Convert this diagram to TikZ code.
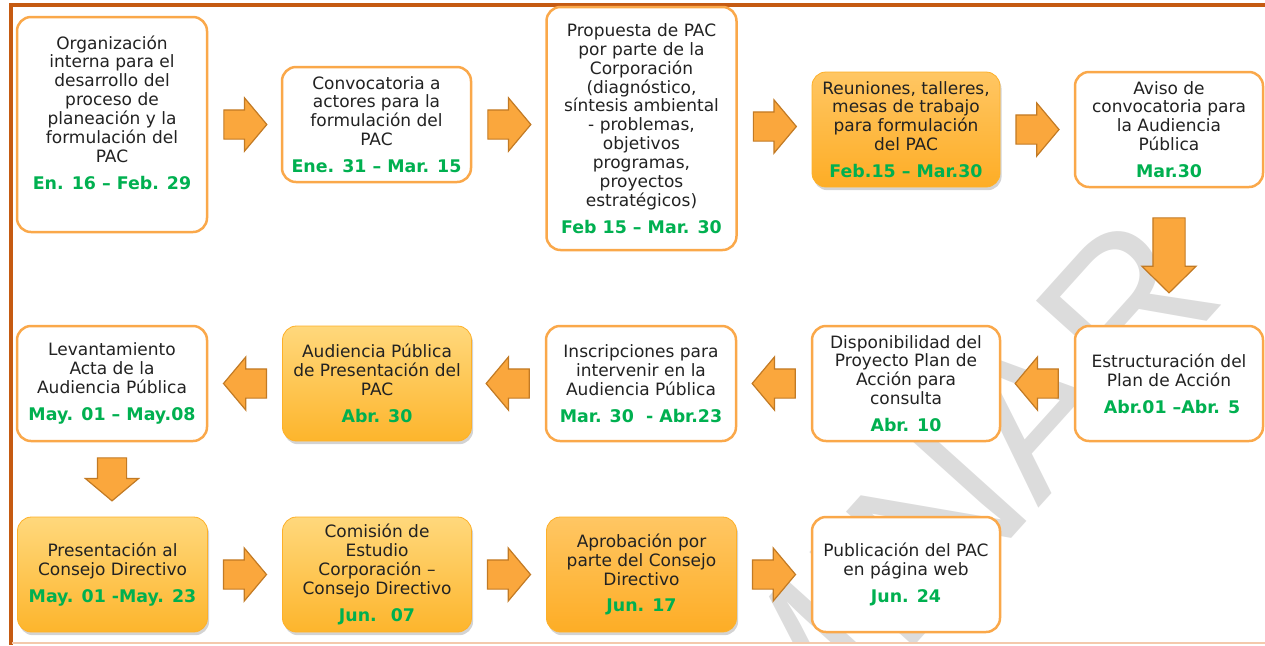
\documentclass[tikz,border=0pt]{standalone}
\usepackage{fontspec}
\usepackage{tikz}
\usetikzlibrary{shapes.arrows,shadows,calc}

\newfontfamily\boxfont{DejaVu Sans}
\newfontfamily\markfont{Liberation Sans}

\definecolor{framec}{HTML}{C55A11}
\definecolor{peach}{HTML}{F4C9AC}
\definecolor{boxorange}{HTML}{FAA84A}
\definecolor{txtgray}{HTML}{222222}
\definecolor{dategreen}{HTML}{00B050}
\definecolor{goldtop}{HTML}{FFD87C}
\definecolor{goldbot}{HTML}{FDB52C}
\definecolor{arrfill}{HTML}{FAA73D}
\definecolor{arrline}{HTML}{C27A24}
\definecolor{markgray}{HTML}{DCDCDC}

\newcommand{\fecha}[1]{{\bfseries\fontsize{8.7}{9.45}\selectfont\color{dategreen}#1}}

\begin{document}
\begin{tikzpicture}
[x=0.5pt,y=-0.5pt]
\tikzset{
	wbox/.style = {draw=boxorange, line width=1.25pt, fill=white, rounded corners=7pt,
		minimum width=95pt, minimum height=57.5pt, align=center, text=txtgray, inner sep=2pt,
		font=\boxfont\fontsize{8.5}{9.45}\selectfont},
	gbox/.style = {wbox, draw=goldbot!90!orange, line width=0.4pt, top color=goldtop, bottom color=goldbot,
		drop shadow={shadow xshift=0.8pt, shadow yshift=-1.6pt, opacity=0.35}},
	arr/.style = {single arrow, draw=arrline, fill=arrfill, line width=0.6pt, inner xsep=0pt, inner ysep=7pt,
		minimum height=21.5pt, minimum width=26pt, single arrow head extend=6pt, single arrow tip angle=100,
		anchor=tail},
	larr/.style = {arr, shape border rotate=180},
	darr/.style = {arr, shape border rotate=270, inner xsep=7pt, inner ysep=0pt},
	watermark/.style = {text=markgray, font=\markfont\fontsize{102}{102}\selectfont, inner sep=0pt}
}
\useasboundingbox (0,0) rectangle (1265,645);

% watermark
\begin{scope}
\clip (12,7) rectangle (1265,642);
\node[watermark, rotate=48, anchor=base east] (wm) at (1228,298) {PRELIMINAR};
\end{scope}

% frame
\draw[framec, line width=2pt] (9,5) -- (1265,5);
\draw[framec, line width=2pt] (11,4) -- (11,645);
\draw[peach, line width=0.8pt] (12,643) -- (1265,643);

% row 1
\node[wbox, minimum height=107.5pt] (b1) at (112,124.5) {};
\node[align=center, text=txtgray, font=\boxfont\fontsize{8.5}{9.45}\selectfont] (t1) at ([yshift=6pt]b1.center)
	{Organización\\interna para el\\desarrollo del\\proceso de\\planeación y la\\formulación del\\PAC\\[4pt]\fecha{En. 16 – Feb. 29}};
\node[wbox, minimum width=94.5pt] (b2) at (376.5,124.5)
	{Convocatoria a\\actores para la\\formulación del\\PAC\\[4pt]\fecha{Ene. 31 – Mar. 15}};
\node[wbox, minimum height=121.5pt] (b3) at (641.5,128.5)
	{Propuesta de PAC\\por parte de la\\Corporación\\(diagnóstico,\\síntesis ambiental\\- problemas,\\objetivos\\programas,\\proyectos\\estratégicos)\\[4pt]\fecha{Feb 15 – Mar. 30}};
\node[gbox, minimum width=94pt, top color=goldtop!80!orange, bottom color=goldbot!85!orange] (b4) at (906,129.5)
	{Reuniones, talleres,\\mesas de trabajo\\para formulación\\del PAC\\[4pt]\fecha{Feb.15 – Mar.30}};
\node[wbox, minimum width=94pt] (b5) at (1169,129.5)
	{Aviso de\\convocatoria para\\la Audiencia\\Pública\\[4pt]\fecha{Mar.30}};

% row 2
\node[wbox, minimum width=94pt] (b6) at (1169,383.5)
	{Estructuración del\\Plan de Acción\\[4pt]\fecha{\ Abr.01 –Abr. 5}};
\node[wbox, minimum width=94pt] (b7) at (906,383.5)
	{Disponibilidad del\\Proyecto Plan de\\Acción para\\consulta\\[4pt]\fecha{Abr. 10}};
\node[wbox] (b8) at (641,383.5)
	{Inscripciones para\\intervenir en la\\Audiencia Pública\\[4pt]\fecha{Mar. 30~ - Abr.23}};
\node[gbox, minimum width=94.5pt] (b9) at (377,383.5)
	{Audiencia Pública\\de Presentación del\\PAC\\[4pt]\fecha{Abr. 30}};
\node[wbox] (b10) at (112,383.5)
	{Levantamiento\\Acta de la\\Audiencia Pública\\[4pt]\fecha{May. 01 – May.08}};

% row 3
\node[gbox] (b11) at (112.5,574.5)
	{Presentación al\\Consejo Directivo\\[4pt]\fecha{May. 01 -May. 23}};
\node[gbox, minimum width=94.5pt] (b12) at (377,574.5)
	{Comisión de\\Estudio\\Corporación –\\Consejo Directivo\\[4pt]\fecha{Jun.~ 07}};
\node[gbox, top color=goldtop!80!orange, bottom color=goldbot!85!orange] (b13) at (641.5,574.5)
	{Aprobación por\\parte del Consejo\\Directivo\\[4pt]\fecha{Jun. 17}};
\node[wbox, minimum width=94pt] (b14) at (906,574.5)
	{Publicación del PAC\\en página web\\[4pt]\fecha{Jun. 24}};

% arrows
\node[arr] (a1) at ([xshift=7.5pt]b1.east |- b2.west) {};
\node[arr] (a2) at ([xshift=7.5pt]b2.east) {};
\node[arr] (a3) at ([xshift=7.5pt,yshift=1pt]b3.east) {};
\node[arr] (a4) at ([xshift=7.5pt]b4.east) {};
\node[darr, minimum height=37.5pt, minimum width=26.5pt, inner xsep=7.75pt,
	single arrow head extend=5.5pt, single arrow tip angle=91] (a5) at ([yshift=-14.5pt]b5.south) {};
\node[larr] (a6) at ([xshift=-7.5pt]b6.west) {};
\node[larr] (a7) at ([xshift=-7.5pt]b7.west) {};
\node[larr] (a8) at ([xshift=-7.5pt]b8.west) {};
\node[larr] (a9) at ([xshift=-7.5pt]b9.west) {};
\node[darr] (a10) at ([yshift=-7.5pt]b10.south) {};
\node[arr] (a11) at ([xshift=7.5pt]b11.east) {};
\node[arr] (a12) at ([xshift=7.5pt]b12.east) {};
\node[arr] (a13) at ([xshift=7.5pt]b13.east) {};
\end{tikzpicture}
\end{document}
